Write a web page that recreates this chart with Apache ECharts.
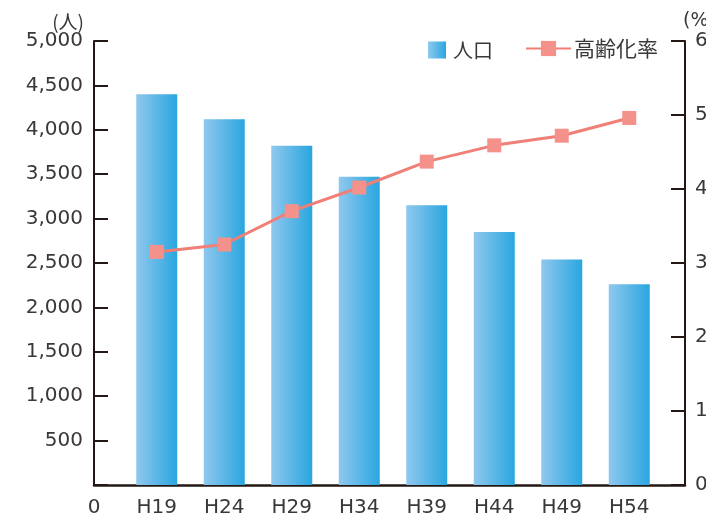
<!DOCTYPE html>
<html>
<head>
<meta charset="utf-8">
<script src="https://cdn.jsdelivr.net/npm/echarts@6/dist/echarts.min.js"></script>
<style>
html,body{margin:0;padding:0;background:#fff;}
#chart{width:706px;height:518px;}
</style>
</head>
<body>
<div id="chart"></div>
<script>
var categories = ['H19','H24','H29','H34','H39','H44','H49','H54'];
var population = [4400, 4120, 3820, 3470, 3150, 2850, 2540, 2260];
var agingRate = [31.5, 32.5, 37.0, 40.2, 43.7, 45.9, 47.2, 49.6];
var seriesNames = ['人口', '高齢化率'];
var leftUnit = '(人)';
var rightUnit = '(%)';

var FONT = 'DejaVu Sans';
var CJK = 'Noto Sans CJK JP';
var TXT = '#383838';
var AX = '#231815';

var barGrad = new echarts.graphic.LinearGradient(0, 0, 1, 0, [
  {offset: 0, color: '#8fc8ee'},
  {offset: 1, color: '#29a6df'}
]);

var chart = echarts.init(document.getElementById('chart'));
chart.setOption({
  animation: false,
  backgroundColor: '#ffffff',
  grid: [
    {left: 94, right: 21, top: 41, bottom: 33, containLabel: false, outerBoundsMode: 'none'},
    {left: 123, right: 43, top: 41, bottom: 33, containLabel: false, outerBoundsMode: 'none'}
  ],
  legend: [
    {
      data: [{name: seriesNames[0], icon: 'rect'}],
      left: 423, top: 35,
      itemWidth: 18, itemHeight: 17, itemGap: 0,
      textStyle: {fontFamily: CJK, fontSize: 20, color: TXT, padding: [0,0,0,2]},
      selectedMode: false
    },
    {
      data: [seriesNames[1]],
      left: 520, top: 33,
      itemWidth: 45, itemHeight: 19, itemGap: 0,
      textStyle: {fontFamily: CJK, fontSize: 21, color: TXT, padding: [0,0,0,-2]},
      selectedMode: false
    }
  ],
  xAxis: [
    {
      gridIndex: 0, type: 'value', min: 0, max: 1, interval: 1,
      axisLine: {show: true, lineStyle: {color: AX, width: 2.5}},
      axisTick: {show: false},
      splitLine: {show: false},
      axisLabel: {
        margin: 13, color: TXT, fontFamily: FONT, fontSize: 20,
        formatter: function (v) { return v === 0 ? '0' : ''; }
      }
    },
    {
      gridIndex: 1, type: 'category', data: categories,
      axisLine: {show: false},
      axisTick: {show: false},
      axisLabel: {margin: 13, color: TXT, fontFamily: FONT, fontSize: 20}
    }
  ],
  yAxis: [
    {
      gridIndex: 0, type: 'value', min: 0, max: 5000, interval: 500,
      position: 'left',
      name: leftUnit,
      nameLocation: 'end',
      nameGap: 9,
      nameTextStyle: {fontFamily: CJK, fontSize: 19, color: TXT, align: 'right', padding: [0, 10, 0, 0]},
      axisLine: {show: true, lineStyle: {color: AX, width: 2}},
      axisTick: {show: true, inside: true, length: 14, lineStyle: {color: AX, width: 2}},
      splitLine: {show: false},
      axisLabel: {
        margin: 11, color: TXT, fontFamily: FONT, fontSize: 20,
        formatter: function (v) { return v === 0 ? '' : v.toLocaleString('en-US'); }
      }
    },
    {
      gridIndex: 0, type: 'value', min: 0, max: 60, interval: 10,
      position: 'right',
      name: rightUnit,
      nameLocation: 'end',
      nameGap: 10,
      nameTextStyle: {fontFamily: FONT, fontSize: 19, color: TXT, align: 'left', padding: [0, 0, 0, -2]},
      axisLine: {show: true, lineStyle: {color: AX, width: 2}},
      axisTick: {show: true, inside: true, length: 14, lineStyle: {color: AX, width: 2}},
      splitLine: {show: false},
      axisLabel: {margin: 10, color: TXT, fontFamily: FONT, fontSize: 20}
    },
    {
      gridIndex: 1, type: 'value', min: 0, max: 5000, show: false
    },
    {
      gridIndex: 1, type: 'value', min: 0, max: 60, show: false
    }
  ],
  series: [
    {
      name: seriesNames[0],
      type: 'bar',
      xAxisIndex: 1, yAxisIndex: 2,
      data: population,
      barWidth: 41,
      itemStyle: {color: barGrad}
    },
    {
      name: seriesNames[1],
      type: 'line',
      xAxisIndex: 1, yAxisIndex: 3,
      data: agingRate,
      symbol: 'rect',
      symbolSize: 14,
      lineStyle: {color: '#ef7f77', width: 3},
      itemStyle: {color: '#f4918b'},
      z: 5
    }
  ]
});
</script>
</body>
</html>
